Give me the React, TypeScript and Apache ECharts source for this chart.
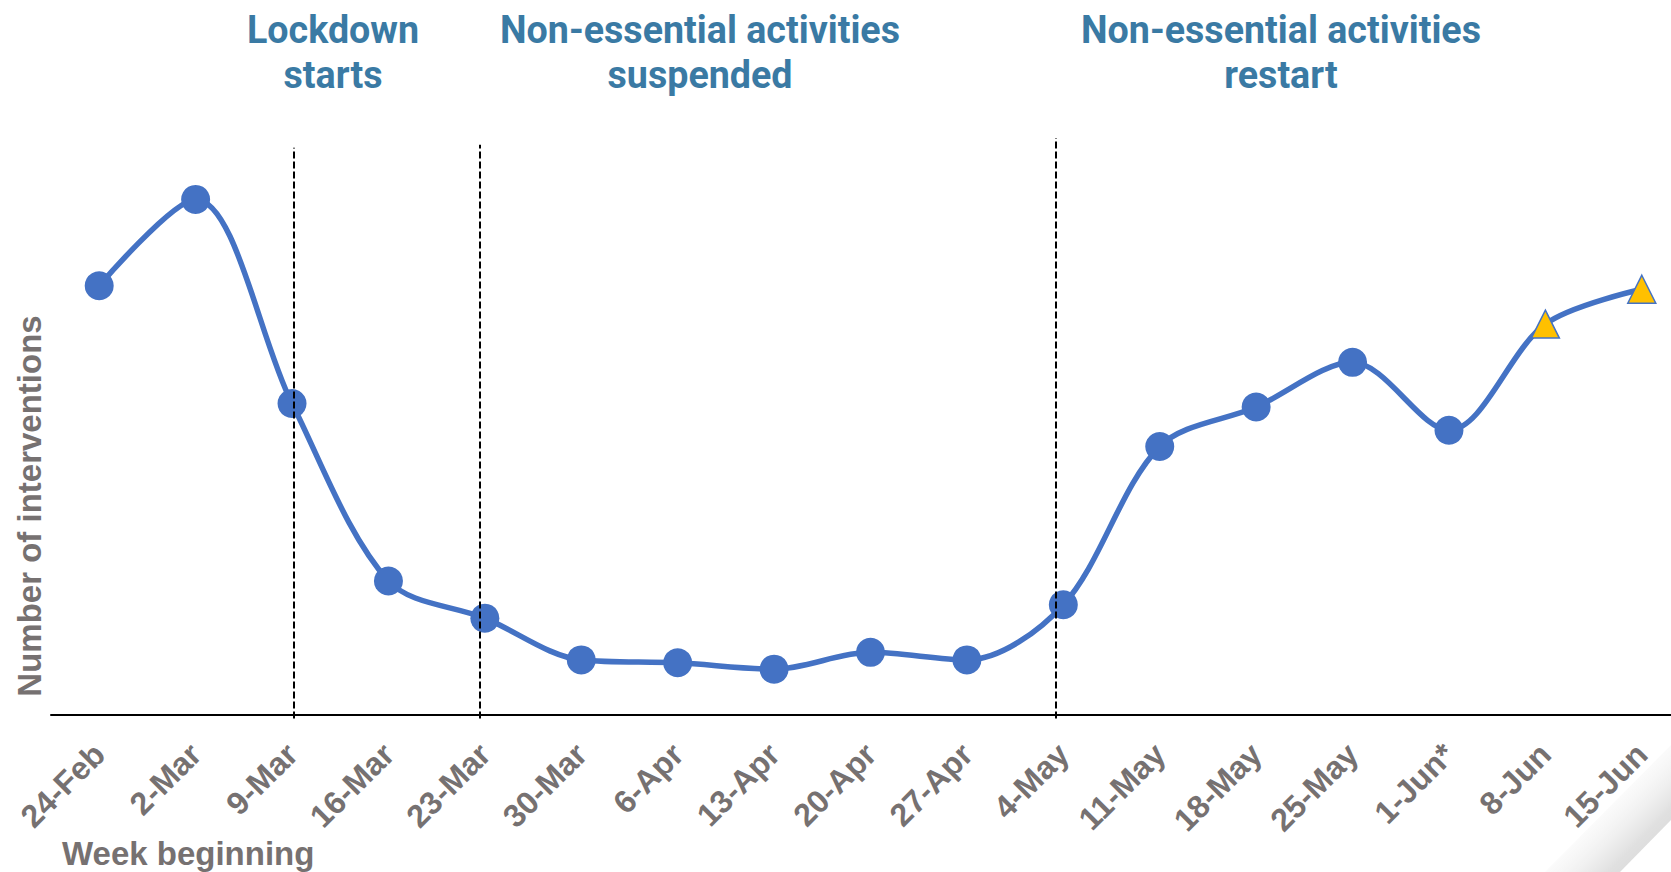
import { useEffect, useRef } from "react";
import * as echarts from "echarts";

// Weekly counts of interventions
const weeks = [
  "24-Feb", "2-Mar", "9-Mar", "16-Mar", "23-Mar", "30-Mar", "6-Apr", "13-Apr",
  "20-Apr", "27-Apr", "4-May", "11-May", "18-May", "25-May", "1-Jun*", "8-Jun", "15-Jun",
];
const interventions = [
  74.0, 88.9, 53.7, 23.1, 16.7, 9.5, 9.0, 7.9, 10.8, 9.5, 19.0, 46.3, 53.1, 60.8, 49.1, 67.4, 73.4,
];
// Weeks whose figures are still provisional (drawn as triangles)
const provisionalWeeks = ["8-Jun", "15-Jun"];

// Policy milestones: position on the week scale (0 = first week) and height of the marker line
const milestoneAt = [2.02, 3.943, 9.925];
const milestoneTop = [97.8, 98.3, 99.5];
const milestoneTitles = [
  "Lockdown\nstarts",
  "Non-essential activities\nsuspended",
  "Non-essential activities\nrestart",
];

const BLUE = "#4472c4";
const GREY = "#767171";
const TITLE_BLUE = "#3a7aa4";

export default function App() {
  const ref = useRef<HTMLDivElement>(null);

  useEffect(() => {
    if (!ref.current) return;
    const chart = echarts.init(ref.current, null, { renderer: "svg" });

    const seriesData = weeks.map((w, i) =>
      provisionalWeeks.includes(w)
        ? {
            value: interventions[i],
            symbol: "triangle",
            symbolSize: [28, 28],
            itemStyle: { color: "#ffc000", borderColor: BLUE, borderWidth: 1.5 },
          }
        : interventions[i]
    );

    const titleX = [333, 700, 1281];

    chart.setOption({
      animation: false,
      backgroundColor: "#ffffff",
      // the last category band runs past the right edge of the visible frame
      grid: { left: 51, right: 0, top: 135, bottom: 151.2, containLabel: false },
      xAxis: [
        {
          type: "category",
          data: weeks,
          boundaryGap: true,
          axisLine: { show: true, onZero: true, lineStyle: { color: "#000000", width: 2 } },
          axisTick: { show: false },
          splitLine: { show: false },
          axisLabel: {
            interval: 0,
            rotate: 45,
            margin: 28,
            color: GREY,
            fontSize: 32,
            fontWeight: "bold",
            fontFamily: "Liberation Sans, Arial, sans-serif",
          },
        },
        {
          type: "value",
          min: -0.5,
          max: 16.5,
          show: false,
        },
      ],
      yAxis: {
        type: "value",
        min: -1,
        max: 100,
        show: false,
        splitLine: { show: false },
      },
      series: [
        {
          type: "line",
          data: seriesData,
          smooth: 0.32,
          symbol: "circle",
          symbolSize: 29,
          lineStyle: { color: BLUE, width: 5.5 },
          itemStyle: { color: BLUE },
          z: 2,
        },
        {
          type: "line",
          xAxisIndex: 1,
          data: [],
          silent: true,
          z: 5,
          markLine: {
            silent: true,
            symbol: "none",
            z: 10,
            label: { show: false },
            lineStyle: { color: "#000000", width: 2, type: [7, 3] },
            data: milestoneAt.map((x, i) => [
              { coord: [x, -0.6] },
              { coord: [x, milestoneTop[i]] },
            ]),
          },
        },
      ],
      graphic: [
        ...milestoneTitles.map((t, i) => ({
          type: "text",
          x: titleX[i],
          y: 6.5,
          scaleX: 0.965,
          silent: true,
          style: {
            text: t,
            fontFamily: "Roboto, sans-serif",
            fontWeight: "bold",
            fontSize: 39,
            lineHeight: 45,
            fill: TITLE_BLUE,
            align: "center",
            verticalAlign: "top",
          },
        })),
        {
          type: "text",
          x: 62,
          y: 853,
          silent: true,
          style: {
            text: "Week beginning",
            fontFamily: "Liberation Sans, Arial, sans-serif",
            fontWeight: "bold",
            fontSize: 33,
            fill: GREY,
            align: "left",
            verticalAlign: "middle",
          },
        },
        {
          type: "text",
          x: 29,
          y: 506,
          rotation: Math.PI / 2,
          silent: true,
          style: {
            text: "Number of interventions",
            fontFamily: "Liberation Sans, Arial, sans-serif",
            fontWeight: "bold",
            fontSize: 33,
            fill: GREY,
            align: "center",
            verticalAlign: "middle",
          },
        },
        {
          // soft page-curl shadow in the lower-right corner
          type: "polygon",
          silent: true,
          z: -1,
          shape: {
            points: [
              [1545, 872],
              [1620, 872],
              [1671, 820],
              [1671, 745],
            ],
          },
          style: {
            fill: new echarts.graphic.LinearGradient(1, 1, 0, 0, [
              { offset: 0, color: "#d2d2d2" },
              { offset: 0.25, color: "#e0e0e0" },
              { offset: 0.65, color: "rgba(255,255,255,0)" },
            ]),
          },
        },
      ],
    });

    return () => chart.dispose();
  }, []);

  return (
    <div
      style={{
        position: "absolute",
        left: 0,
        top: 0,
        width: 1671,
        height: 872,
        overflow: "hidden",
        background: "#ffffff",
      }}
    >
      <div ref={ref} style={{ width: 1690, height: 872 }} />
    </div>
  );
}
